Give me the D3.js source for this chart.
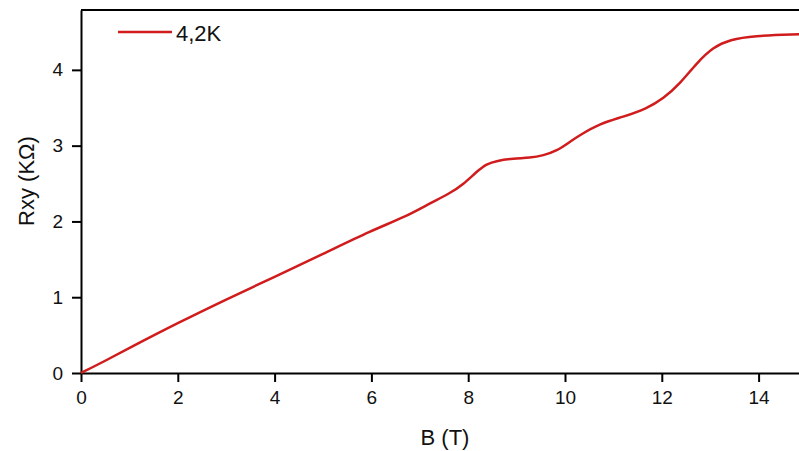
<!DOCTYPE html>
<html>
<head>
<meta charset="utf-8">
<script src="https://cdn.jsdelivr.net/npm/d3@7"></script>
<style>
  body { margin: 0; background: #fff; overflow: hidden; }
  svg { display: block; font-family: "Liberation Sans", Arial, sans-serif; }
</style>
</head>
<body>
<svg id="chart" width="799" height="451"></svg>
<script>
// field (T) and Hall resistance (kOhm)
const fieldB = [0, 0.5, 1, 2, 3, 4, 5, 6, 6.7, 7.21, 7.62, 7.9, 8.18, 8.38, 8.59, 8.93, 9.28, 9.55, 9.83,
  10.1, 10.31, 10.72, 11.2, 11.69, 12.03, 12.38, 12.72, 13.06, 13.41, 13.89, 14.79, 15];
const rxy = [0, 0.16, 0.33, 0.66, 0.97, 1.27, 1.57, 1.88, 2.06, 2.24, 2.37, 2.49, 2.66, 2.76, 2.80, 2.83, 2.84, 2.87, 2.93,
  3.05, 3.14, 3.29, 3.38, 3.49, 3.62, 3.82, 4.09, 4.30, 4.40, 4.45, 4.47, 4.47];
const xTicks = [0, 2, 4, 6, 8, 10, 12, 14];
const yTicks = [0, 1, 2, 3, 4];
const seriesName = "4,2K";

const svg = d3.select('#chart');
const plotLeft = 81, plotTop = 10, plotBottom = 373;
const fontFam = '"Liberation Sans", Arial, sans-serif';

const x = d3.scaleLinear().domain([0, 15]).range([plotLeft, plotLeft + 15 * 48.4]);
const y = d3.scaleLinear().domain([0, 4.79]).range([plotBottom, plotTop]);

// x axis
const xAxis = svg.append('g')
  .attr('transform', `translate(0,${plotBottom})`)
  .call(d3.axisBottom(x).tickValues(xTicks).tickFormat(d3.format('d'))
    .tickSize(9).tickPadding(9).tickSizeOuter(0));

// y axis
const yAxis = svg.append('g')
  .attr('transform', `translate(${plotLeft},0)`)
  .call(d3.axisLeft(y).tickValues(yTicks).tickFormat(d3.format('d'))
    .tickSize(9).tickPadding(9).tickSizeOuter(0));

[xAxis, yAxis].forEach(a => {
  a.attr('font-family', fontFam).attr('font-size', 19);
  a.select('.domain').attr('stroke', '#000').attr('stroke-width', 2);
  a.selectAll('.tick line').attr('stroke', '#000').attr('stroke-width', 2);
  a.selectAll('.tick text').attr('fill', '#111');
});

// top frame
svg.append('line')
  .attr('x1', plotLeft).attr('x2', 820)
  .attr('y1', plotTop).attr('y2', plotTop)
  .attr('stroke', '#000').attr('stroke-width', 2);

// the curve
const pts = fieldB.map((b, i) => [b, rxy[i]]);
svg.append('path')
  .datum(pts)
  .attr('fill', 'none')
  .attr('stroke', '#d01c1c')
  .attr('stroke-width', 2.5)
  .attr('d', d3.line().x(d => x(d[0])).y(d => y(d[1])).curve(d3.curveBasis));

// legend
svg.append('line')
  .attr('x1', 118).attr('x2', 172).attr('y1', 32).attr('y2', 32)
  .attr('stroke', '#d01c1c').attr('stroke-width', 2.5);
svg.append('text')
  .attr('x', 176).attr('y', 41)
  .style('font-size', '22px').attr('fill', '#111')
  .text(seriesName);

// axis labels
svg.append('text')
  .attr('x', 445).attr('y', 445)
  .attr('text-anchor', 'middle')
  .style('font-size', '22px').attr('fill', '#111')
  .text('B (T)');

svg.append('text')
  .attr('transform', `translate(34,181) rotate(-90)`)
  .attr('text-anchor', 'middle')
  .style('font-size', '22px').attr('fill', '#111')
  .text('Rxy (KΩ)');
</script>
</body>
</html>
